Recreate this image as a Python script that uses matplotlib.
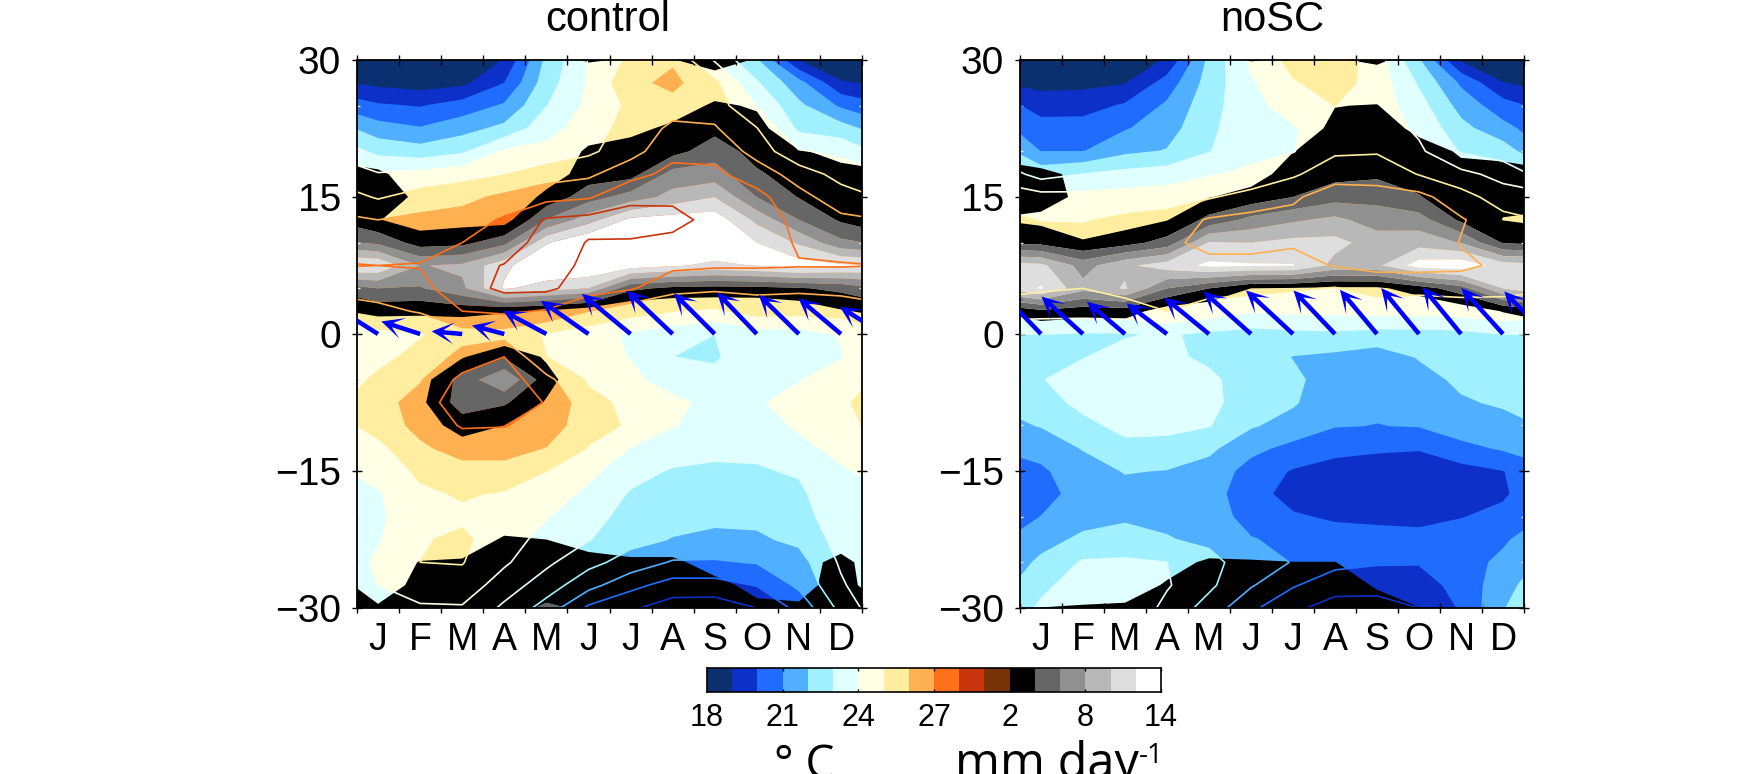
import numpy as np
import matplotlib
matplotlib.use("Agg")
import matplotlib.pyplot as plt

# latitudes of the rows (north to south), one list per month below
lats = [30 - 2.5 * i for i in range(25)]
meses = ["J", "F", "M", "A", "M", "J", "J", "A", "S", "O", "N", "D"]

# sst, control
t_control = [
    [17.8,18.7,20.1,21.4,22.7,24.1,24.9,26.0,26.5,27.0,26.5,25.7,24.8,24.7,25.2,25.6,25.4,24.7,24.3,23.9,23.8,23.9,24.2,24.0,23.8],
    [17.6,18.5,19.9,21.05,22.4,24.3,25.4,26.25,26.6,27.05,26.7,26.1,24.9,25.3,25.9,26.4,26.3,25.8,25.2,24.8,24.7,24.9,25.0,24.4,23.9],
    [17.9,18.7,20.4,21.6,22.8,24.6,25.7,26.4,27.0,27.6,27.6,27.0,25.6,26.3,27.3,27.7,27.1,26.4,25.6,25.1,24.8,25.2,25.05,24.6,23.9],
    [19.05,19.95,21.1,22.25,24.1,24.95,26.2,27.15,27.4,28.05,28.2,27.2,25.6,27.0,27.6,27.5,27.05,26.4,25.6,24.9,24.7,24.4,24.15,23.5,22.8],
    [22.2,22.5,22.95,23.6,24.3,25.5,26.7,28.1,28.5,28.5,28.2,26.9,24.9,25.0,26.3,26.95,26.6,25.95,25.0,24.45,24.05,23.7,23.2,22.5,21.6],
    [24.05,24.1,24.2,24.5,24.8,25.8,26.9,28.3,27.95,27.75,27.5,26.0,24.4,24.5,24.85,25.3,25.3,24.95,24.25,23.8,23.4,23.05,22.3,21.35,19.8],
    [25.2,25.7,25.2,25.4,25.6,26.7,27.7,28.5,27.9,27.6,27.1,25.4,23.85,23.95,24.3,24.75,24.9,23.95,23.35,22.9,22.6,22.3,21.6,20.3,19.15],
    [25.85,26.25,25.6,26.2,26.75,27.25,27.8,28.3,27.75,27.2,26.35,25.0,23.4,23.0,23.4,24.3,24.05,23.5,22.9,22.6,22.3,21.95,20.9,19.6,18.5],
    [23.9,25.2,25.55,26.1,26.7,27.2,27.5,27.7,27.5,27.1,26.2,24.8,23.0,22.9,23.2,23.6,23.6,23.2,22.85,22.6,22.3,21.65,20.9,19.6,18.45],
    [22.05,23.1,23.95,25.05,25.65,26.5,27.3,27.6,27.5,27.1,26.25,25.4,23.5,23.5,23.8,23.9,23.7,23.2,22.9,22.6,22.2,21.85,21.05,20.05,19.0],
    [18.9,21.3,22.2,22.75,24.1,25.6,26.3,26.7,26.9,27.05,26.2,25.3,23.6,23.6,23.95,24.3,24.1,23.8,23.1,22.8,22.6,22.2,21.6,21.2,20.3],
    [17.9,19.1,20.8,22.4,23.75,24.6,25.5,26.2,26.7,27.05,26.3,25.4,24.05,23.95,24.4,24.8,24.6,24.2,23.9,23.75,23.6,23.4,23.15,22.85,22.3],
]

# rain, control
p_control = [
    [0,0,0,0,0.5,2.4,3.0,2.1,5.6,11.9,6,2.6,0,0,0,0,0,0,0,0,0,0,0.7,1.1,2.2],
    [0,0,0,0,0,0.8,1.6,1.0,3.1,7.9,5.8,2.5,0,0,1.0,1.5,0.8,0,0,0,0,0.5,2.1,2.5,2.1],
    [0,0,0,0,0,0,0,1.3,3.4,8.4,7.6,2.7,0,1.8,4.8,5.0,3.0,1.0,0,0,0,0.5,2.3,3,3],
    [0,0,0,0,0,0,0,1.0,5.4,11.5,12.3,2.2,0,3.8,7.9,4.3,2.0,0.5,0,0,0.5,2.3,2.6,3,3.2],
    [1,0,0,0,0,0.8,2.6,6.1,11.8,14,11,1.7,0,1.7,2.8,1.8,0.5,0,0,0,0.8,2.0,2.8,3,4.3],
    [2.2,0.4,0,0.8,2.4,3,5.1,9.2,14,14,10,0.5,0,0,0,0,0,0,0,0,0,1.4,2.5,3,3.7],
    [1.8,0.3,0.5,1.5,2.8,3.2,6.9,12.5,14,13,4.5,0,0,0,0,0,0,0,0,0,0,1,2.3,2.8,3],
    [1.9,0.3,1,2.4,3.3,6.8,8.7,13,14,12.3,3.5,0,0,0,0,0,0,0,0,0,0,1,2.3,2.8,2.8],
    [3,0.8,2.3,3.4,5.1,6.9,10,13.2,14,11.5,3.3,0,0,0,0,0,0,0,0,0,0,0.3,1.4,2.4,2.6],
    [1.8,0.3,1.8,2.6,3.2,4.3,6,9.5,12,12.1,3.4,0,0,0,0,0,0,0,0,0,0,0,0.5,1.6,2.3],
    [0,0,0,0.5,2.1,3,3.9,6,9.7,13,3.8,0.5,0,0,0,0,0,0,0,0,0,0,1.2,1.5,2.2],
    [0,0,0,0,1.7,2.3,2.8,3.7,6.5,12.4,4.5,1.8,0,0,0,0,0,0,0,0,0,1.0,2.6,2.6,2.2],
]

# sst, noSC
t_nosc = [
    [17.5,18.6,19.6,20.35,20.95,22.6,24.4,24.95,25.4,25.5,25.1,24.5,23.0,22.7,22.95,22.5,22.05,21.3,20.85,20.7,21.0,21.6,22.2,22.7,23.2],
    [18,18.7,19.6,20.4,20.95,23.0,24.3,24.9,25.5,25.5,25.0,24.5,22.9,22.95,23.4,23.3,22.7,22.05,21.5,21.3,21.6,22.2,23.1,23.6,23.9],
    [18.1,18.9,20.1,20.9,21.75,23.3,24.4,25.2,25.7,25.8,25.3,24.6,22.9,23.35,23.65,23.6,23.3,22.7,22.05,21.65,21.85,22.35,23.15,23.6,23.9],
    [19.1,20.4,21.15,21.55,22.05,23.5,24.5,25.4,25.85,25.95,25.6,25.0,23.1,23.2,23.6,23.7,23.3,22.6,21.95,21.7,21.8,22.05,23.0,23.1,22.7],
    [22.2,22.4,22.6,22.8,22.95,23.9,24.9,26.1,26.2,25.8,25.4,24.5,22.8,22.8,23.2,23.35,23.05,22.2,21.6,21.4,21.5,21.8,22.3,22.2,21.6],
    [24.2,23.85,23.7,23.6,23.7,24.2,25.4,26.3,26.2,25.8,25.4,24.05,22.6,22.6,22.5,22.3,22.1,21.25,20.6,20.4,20.6,21.05,21.5,21.1,20.2],
    [25.3,24.9,24.4,23.9,23.95,24.85,25.85,26.3,26.1,25.7,25.1,24.2,22.7,21.95,22.2,22.1,21.6,20.7,19.9,19.6,20.1,20.75,20.95,20.1,19.2],
    [25.6,25.4,25.0,24.6,24.85,25.6,26.5,27.0,26.5,26.05,24.95,24.2,22.8,21.75,21.5,21.3,21.05,20.2,19.7,19.55,19.85,20.4,20.3,19.4,18.6],
    [24.5,24.6,24.55,24.6,24.9,25.7,26.3,26.7,26.6,26.25,25.4,24.3,22.6,21.5,21.3,21.15,20.98,20.1,19.6,19.5,19.8,20.3,20.1,19.35,18.6],
    [22.05,22.85,23.4,23.8,24.2,24.95,26.3,26.5,26.7,26.3,25.3,24.3,22.6,22.05,21.7,21.4,21.05,20.05,19.5,19.4,19.8,20.2,20.05,19.6,19.0],
    [18.8,20.8,21.6,22.3,22.9,24.3,25.4,26.1,25.95,26.2,25.4,24.4,22.7,22.4,22.15,21.9,21.5,20.7,19.6,19.5,19.95,20.4,20.6,20.3,20.1],
    [17.6,19,20.4,21.3,22.5,23.65,24.5,25.3,25.6,25.8,25.2,24.65,23.0,22.8,22.4,22.1,21.7,21.1,19.95,19.85,20.25,20.85,21.2,21.6,21.9],
]

# rain, noSC
p_nosc = [
    [0,0,0,0,0.3,2.6,2.9,1.5,3.4,10.5,12.2,3.5,0,0,0,0,0,0,0,0,0,0,0,0,2.05],
    [0,0,0,0,0,1.4,1.5,0.8,2.2,7.2,8.6,2.9,0,0,0,0,0,0,0,0,0,0,0,0.8,2.2],
    [0,0,0,0,0,0,0,1,3.2,9.6,10.2,3,0,0,0,0,0,0,0,0,0,0,0,1,2.3],
    [0,0,0,0,0,0,0.5,1.9,4.8,11,6,0.9,0,0,0,0,0,0,0,0,0,0,1.3,2.2,2.8],
    [1,0,0,0,0,0.8,1.9,4.6,10.2,12.4,4,0.6,0,0,0,0,0,0,0,0,0,0.6,2.3,2.9,3.6],
    [2.1,0.5,0,0,0.3,1,2.8,6.6,10,12.2,2,0,0,0,0,0,0,0,0,0,0,0.5,2.2,2.8,3.1],
    [1.8,0.3,0,0.7,1.95,3,4,7.7,10.6,12.1,1.8,0,0,0,0,0,0,0,0,0,0,0,2.05,2.6,2.9],
    [1.8,0,1.95,2.5,2.9,3.3,5.2,8.5,10.6,9.4,1.6,0,0,0,0,0,0,0,0,0,0,0,2.05,2.5,2.8],
    [2.4,0.5,2.1,3,3.4,3.6,5.4,7,9.1,9.6,1.6,0,0,0,0,0,0,0,0,0,0,0,0.8,1.9,2.4],
    [1,0,0,1.5,2.8,3.3,4.1,6.9,9.2,13,3,0,0,0,0,0,0,0,0,0,0,0,0,0.8,2.05],
    [0,0,0,0,1.8,2.5,2.9,3.6,7.9,13.5,5.1,0.7,0,0,0,0,0,0,0,0,0,0,0,0,1.9],
    [0,0,0,0,1.6,2.5,2.4,1.95,3.8,11,10,2.1,0,0,0,0,0,0,0,0,0,0,0,0,0],
]

# wind at the equator, one arrow per month
u_control = [-6.35,-5.7,-4.5,-4.75,-6.35,-7,-7.15,-6.75,-6,-5.85,-5.9,-6.25]
v_control = [4,1.85,0.4,1.25,3.4,4.9,5.9,6.4,6,6.1,5.75,5.25]
u_nosc = [-6,-6.1,-5.6,-5.95,-6.55,-7,-6.9,-6.1,-5.45,-5.55,-5.65,-6.1]
v_nosc = [6.25,5.5,4.75,4.5,5.35,6.25,6.4,6.4,6.5,6.75,6.9,6.75]

colores_t = ["#0a3070","#0c30c8","#1f6cff","#50b0ff","#a0f0ff","#e0ffff",
             "#ffffe6","#ffeea0","#ffb050","#ff7018","#c8340c","#783208"]
colores_p = ["#000000","#666666","#909090","#b8b8b8","#dedede","#ffffff"]
niveles_t = [-100,19,20,21,22,23,24,25,26,27,28,29,100]
niveles_p = [2,4,6,8,10,12,100]
lineas_t = [19,20,21,22,23,24,25,26,27,28]

W, H = 1738, 774


def caja(x0, y0, x1, y1):
    # pixel box of the reference to figure coordinates
    return [x0 / W, 1 - y1 / H, (x1 - x0) / W, (y1 - y0) / H]


def envolver(campo):
    # the year is cyclic, add Dec before Jan and Jan after Dec
    c = np.array(campo, dtype=float).T
    return np.column_stack([c[:, -1], c, c[:, 0]])


def panel(ax, temp, lluvia, u, v, titulo, x_titulo):
    x = np.arange(-0.5, 13.0, 1.0)
    t = envolver(temp)
    p = envolver(lluvia)
    ax.contourf(x, lats, t, levels=niveles_t, colors=colores_t, antialiased=True)
    ax.contourf(x, lats, p, levels=niveles_p, colors=colores_p, antialiased=True)
    ax.contour(x, lats, t, levels=lineas_t,
               colors=[colores_t[n - 18] for n in lineas_t], linewidths=1.2)
    xq = np.arange(0.5, 13.0, 1.0)
    ax.quiver(xq, np.zeros(13), u + u[:1], v + v[:1], color="#0000ff", pivot="tail",
              angles="uv", units="inches", scale_units="inches", scale=14.7, width=0.045,
              headwidth=4.8, headlength=5.0, headaxislength=2.6, zorder=5)
    ax.set_xlim(0, 12)
    ax.set_ylim(-30, 30)
    ax.set_xticks(range(13))
    ax.set_xticklabels([])
    ax.set_xticks(np.arange(0.5, 12, 1), minor=True)
    ax.set_xticklabels(meses, minor=True, fontsize=27)
    ax.set_yticks([-30, -15, 0, 15, 30])
    ax.set_yticklabels(["\u221230", "\u221215", "0", "15", "30"], fontsize=28)
    ax.set_yticks(range(-25, 30, 5), minor=True)
    ax.tick_params(axis="both", which="major", direction="inout", length=7, width=1,
                   top=True, right=True, pad=8)
    ax.tick_params(axis="x", which="minor", length=0, pad=10)
    ax.tick_params(axis="y", which="minor", direction="in", length=2, width=1,
                   color="#e8e8e8", right=True)
    for s in ax.spines.values():
        s.set_linewidth(1.3)
    fig.text(x_titulo / W, 1 - 31 / H, titulo, ha="center", va="baseline", fontsize=30)


plt.rcParams["font.family"] = ["Liberation Sans", "DejaVu Sans"]
fig = plt.figure(figsize=(W / 100, H / 100), dpi=100)

ax1 = fig.add_axes(caja(357, 60, 862, 608))
ax2 = fig.add_axes(caja(1020, 60, 1524, 608))
panel(ax1, t_control, p_control, u_control, v_control, "control", 608)
panel(ax2, t_nosc, p_nosc, u_nosc, v_nosc, "noSC", 1272)

# shared colour bar
cax = fig.add_axes(caja(707, 668, 1161, 692))
cax.pcolormesh(np.arange(19), [0, 1], np.arange(18).reshape(1, -1),
               cmap=matplotlib.colors.ListedColormap(colores_t + colores_p), vmin=0, vmax=18)
cax.set_yticks([])
cax.set_xticks([0, 3, 6, 9, 12, 15, 18])
cax.set_xticklabels(["18", "21", "24", "27", "2", "8", "14"], fontsize=22)
cax.tick_params(axis="x", direction="in", length=2, width=1, top=True, pad=8)
for s in cax.spines.values():
    s.set_linewidth(1.2)

fig.text(774 / W, 1 - 778 / H, "\u00b0 C", fontsize=33, family="Open Sans", ha="left", va="baseline")
fig.text(955 / W, 1 - 778 / H, "mm day", fontsize=35, family="Open Sans", ha="left", va="baseline")
fig.text(1139 / W, 1 - 763 / H, "-1", fontsize=20, family="Open Sans", ha="left", va="baseline")

fig.savefig("out.png", dpi=100)
